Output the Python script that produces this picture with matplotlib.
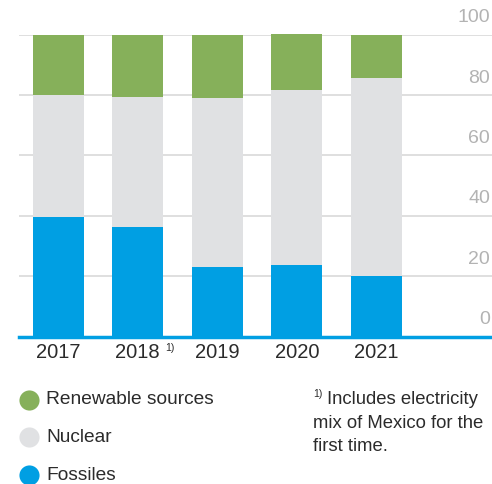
import matplotlib.pyplot as plt
import numpy as np
from matplotlib.lines import Line2D
from matplotlib.transforms import blended_transform_factory

plt.rcParams["font.family"] = ["Liberation Sans", "DejaVu Sans"]

years = ["2017", "2018", "2019", "2020", "2021"]
fossiles = [39.7, 36.4, 23.1, 23.8, 19.9]
nuclear = [40.2, 43.1, 55.8, 57.8, 65.6]
renewable = [20.1, 20.5, 21.1, 18.7, 14.5]
y_ticks = [0, 20, 40, 60, 80, 100]

c_green = "#86b05a"
c_grey = "#e0e1e3"
c_blue = "#009fe3"
c_text = "#2b2b2b"
c_tick = "#b3b3b3"

fig = plt.figure(figsize=(4.92, 4.84), dpi=100)
ax = fig.add_axes([19 / 492, (484 - 336.5) / 484, 1 - 19 / 492, (336.5 - 34.7) / 484])

x = np.arange(len(years))
w = 0.64
ax.bar(x, fossiles, w, color=c_blue, zorder=2, clip_on=False)
ax.bar(x, nuclear, w, bottom=fossiles, color=c_grey, zorder=2, clip_on=False)
ax.bar(x, renewable, w, bottom=np.add(fossiles, nuclear), color=c_green, zorder=2, clip_on=False)

ax.set_xlim(-0.494, 5.455)
ax.set_ylim(0, 100)

# gridlines and right-side value labels sitting above them
trans = blended_transform_factory(ax.transAxes, ax.transData)
for t in y_ticks[1:]:
    ax.axhline(t, color="#d9d9d9", lw=1.2, zorder=1)
for t in y_ticks:
    ax.annotate(str(t), (0.996, t), xycoords=trans, xytext=(0, 6), textcoords="offset points",
                ha="right", va="bottom", fontsize=14, color=c_tick)
ax.axhline(0, color=c_blue, lw=2.5, zorder=3, clip_on=False)

for s in ax.spines.values():
    s.set_visible(False)
ax.set_yticks([])
ax.set_xticks(x, years)
ax.tick_params(axis="x", length=0, pad=5, labelsize=14.5, labelcolor=c_text)
ax.annotate("1)", (1, 0), xycoords="data", xytext=(20, -5), textcoords="offset points",
            ha="left", va="top", fontsize=7.5, color=c_text)

# legend
items = [("Renewable sources", c_green, 400), ("Nuclear", c_grey, 437), ("Fossiles", c_blue, 475)]
for label, color, ypx in items:
    yf = (484 - ypx) / 484
    fig.add_artist(Line2D([29 / 492], [yf], marker="o", markersize=14.5, color=color,
                          markeredgewidth=0, linestyle="none"))
    fig.text(46 / 492, yf, label, ha="left", va="center", fontsize=13.8, color=c_text)

# footnote
fig.text(313 / 492, (484 - 394) / 484, "1)", ha="left", va="center", fontsize=7.5, color=c_text)
fig.text(327 / 492, (484 - 400) / 484, "Includes electricity", ha="left", va="center",
         fontsize=13.3, color=c_text)
fig.text(313 / 492, (484 - 423) / 484, "mix of Mexico for the", ha="left", va="center",
         fontsize=13.3, color=c_text)
fig.text(313 / 492, (484 - 446.5) / 484, "first time.", ha="left", va="center",
         fontsize=13.3, color=c_text)

fig.savefig("out.png", dpi=100)
